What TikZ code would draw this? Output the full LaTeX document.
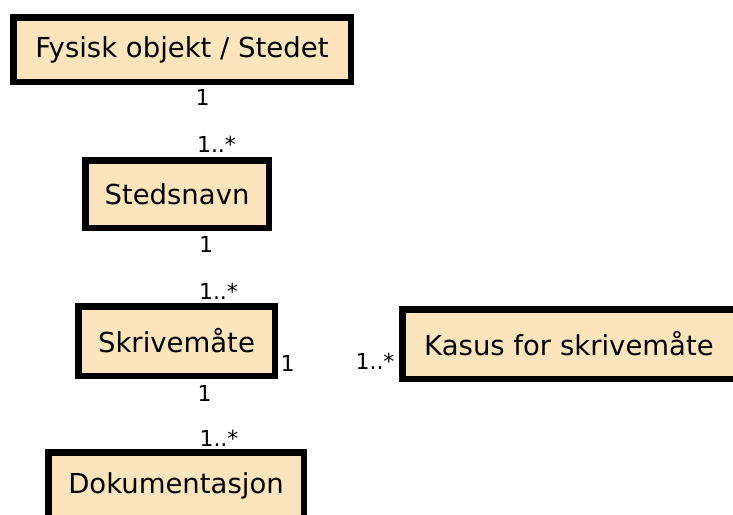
\documentclass[tikz,border=0pt]{standalone}
\usepackage{fontspec}
\setmainfont{DejaVu Sans}
\definecolor{boksfarge}{RGB}{252,228,188}
\begin{document}
\begin{tikzpicture}[
                            x=1pt, y=-1pt,
                            boks/.style={draw, rectangle, line width=6.5pt, fill=boksfarge, inner sep=0pt, font=\fontsize{27.5}{32}\selectfont},
                            mult/.style={inner sep=0pt, font=\fontsize{22}{26}\selectfont}
                            ]
            
                            \useasboundingbox (0,0) rectangle (733,514);
                            \node [boks, minimum width=337.5pt, minimum height=64.5pt] (fysisk) at (182,49.5) {Fysisk objekt / Stedet};
                            \node [boks, minimum width=183.5pt, minimum height=67.5pt] (stedsnavn) at (177,194) {Stedsnavn};
                            \node [boks, minimum width=196.5pt, minimum height=69.5pt] (skrivemaate) at (176.5,341) {Skrivemåte};
                            \node [boks, minimum width=333.5pt, minimum height=69.5pt] (kasus) at (569,344) {Kasus for skrivemåte};
                            \node [boks, minimum width=255.5pt, minimum height=67.5pt] (dok) at (176,486) {Dokumentasjon};
                            
                            \node [mult] (fysisk1) at (202.5,97.5) {1};
                            \node [mult] (stedsnavnN) at (216.5,144) {1..*};
                            \node [mult] (stedsnavn1) at (206,244) {1};
                            \node [mult] (skrivemaateN) at (218.5,291.5) {1..*};
                            \node [mult] (skrivemaateK) at (287.5,363.5) {1};
                            \node [mult] (kasusN) at (375,361) {1..*};
                            \node [mult] (skrivemaate1) at (204.5,393) {1};
                            \node [mult] (dokN) at (219,438.5) {1..*};
                        \end{tikzpicture}
\end{document}
